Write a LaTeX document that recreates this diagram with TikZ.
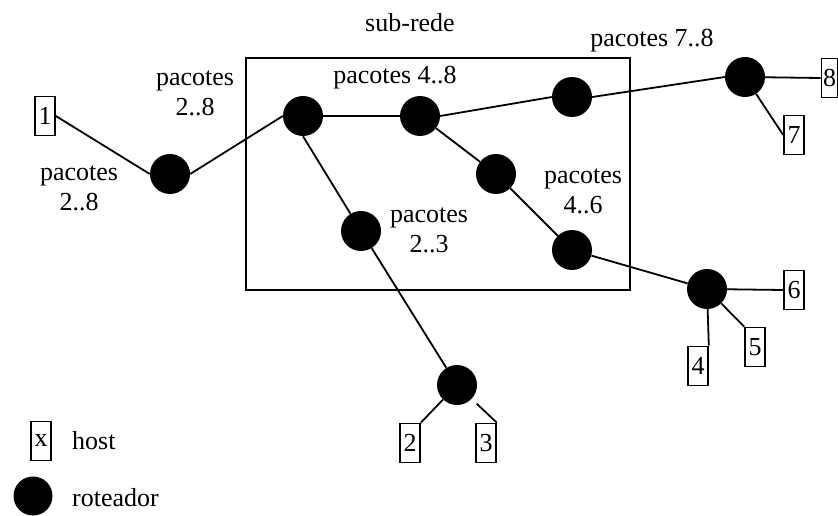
\documentclass[tikz,border=0pt]{standalone}
\usepackage{fontspec}
\setmainfont{Liberation Serif}
\begin{document}
\begin{tikzpicture}[x=1pt,y=-1pt,
  every node/.style={font=\rmfamily\fontsize{26}{30}\selectfont},
  router/.style={circle,fill=black,minimum size=40pt,inner sep=0pt},
  host/.style={draw,line width=1.6pt,minimum width=20pt,minimum height=39pt,inner sep=0pt},
  lbl/.style={align=center,inner sep=0pt},
  link/.style={line width=1.8pt}]
\useasboundingbox (0,0) rectangle (838,516);
% subnet box
\draw[line width=1.9pt] (246,58) rectangle (630,290);
% routers
\node[router] (r1) at (170,174) {};
\node[router] (r2) at (303,116) {};
\node[router] (r3) at (420,116) {};
\node[router] (r5) at (572,97) {};
\node[router] (r4) at (745,77) {};
\node[router] (r6) at (496,174) {};
\node[router] (r8) at (572,250) {};
\node[router] (r9) at (707,289) {};
\node[router] (r7) at (361,231) {};
\node[router] (r10) at (457,385) {};
% hosts
\node[host] (h1) at (45,116) {1};
\node[host,minimum width=16pt] (h8) at (829.5,78) {8};
\node[host] (h7) at (794,135) {7};
\node[host] (h6) at (794,290) {6};
\node[host] (h5) at (755,347) {5};
\node[host] (h4) at (698,366) {4};
\node[host] (h2) at (410,443) {2};
\node[host] (h3) at (486,443) {3};
% links
\draw[link] (h1.east) -- (r1.west);
\draw[link] (r1.east) -- (r2.west);
\draw[link] (r2) -- (r3);
\draw[link] (r3.east) -- (r5.west);
\draw[link] (r5.east) -- (r4.west);
\draw[link] (r4) -- (h8.west);
\draw[link] (r4) -- (h7.west);
\draw[link] (r3) -- (r6);
\draw[link] (r6) -- (r8);
\draw[link] (r8) -- (r9);
\draw[link] (r9) -- (h6.west);
\draw[link] (r9) -- (h5.north west);
\draw[link] (r9) -- (h4.north east);
\draw[link] (r2.south) -- (r7);
\draw[link] (r7) -- (r10);
\draw[link] (r10) -- (h2.north east);
\draw[link,shorten <=7pt] (r10) -- (h3.north east);
% labels
\node[lbl] (tsub) at (410,23) {sub-rede};
\node[lbl] (t78) at (652,41) {pacotes 7..8};
\node[lbl] (t28a) at (195,93) {pacotes\\2..8};
\node[lbl] (t28b) at (79,188) {pacotes\\2..8};
\node[lbl] (t48) at (395,78) {pacotes 4..8};
\node[lbl] (t46) at (583,191) {pacotes\\4..6};
\node[lbl] (t23) at (429,230) {pacotes\\2..3};
% legend
\node[host] (lh) at (41,441) {x};
\node[lbl,anchor=west] (lht) at (72,441) {host};
\node[router,minimum size=39pt] (lr) at (33,496) {};
\node[lbl,anchor=west] (lrt) at (72,498) {roteador};
\end{tikzpicture}
\end{document}
